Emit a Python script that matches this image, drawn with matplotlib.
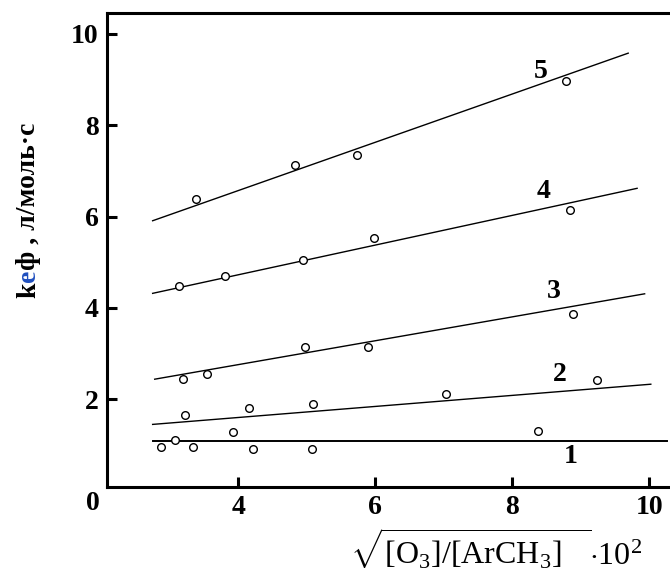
import matplotlib
matplotlib.use("Agg")
import matplotlib.pyplot as plt

plt.rcParams['font.family'] = ['Liberation Serif', 'DejaVu Serif']
plt.rcParams['mathtext.fontset'] = 'custom'
plt.rcParams['mathtext.rm'] = 'Liberation Serif'
plt.rcParams['mathtext.it'] = 'Liberation Serif:italic'
plt.rcParams['mathtext.bf'] = 'Liberation Serif:bold'

# measured points, curves 1..5
x1 = [2.87, 3.07, 3.34, 3.92, 4.22, 5.07, 8.37]
y1 = [0.96, 1.11, 0.96, 1.28, 0.91, 0.91, 1.31]
x2 = [3.22, 4.16, 5.09, 7.03, 9.24]
y2 = [1.66, 1.80, 1.89, 2.11, 2.42]
x3 = [3.20, 3.55, 4.98, 5.89, 8.89]
y3 = [2.44, 2.55, 3.15, 3.15, 3.86]
x4 = [3.14, 3.81, 4.94, 5.98, 8.84]
y4 = [4.48, 4.70, 5.05, 5.53, 6.15]
x5 = [3.38, 4.83, 5.73, 8.78]
y5 = [6.39, 7.12, 7.34, 8.97]

# fitted lines (end points)
fit1_x, fit1_y = [2.75, 10.25], [1.09, 1.09]
fit2_x, fit2_y = [2.75, 10.02], [1.45, 2.33]
fit3_x, fit3_y = [2.78, 9.93], [2.44, 4.31]
fit4_x, fit4_y = [2.75, 9.82], [4.32, 6.62]
fit5_x, fit5_y = [2.75, 9.69], [5.91, 9.58]

curve_names = ["1", "2", "3", "4", "5"]
name_x = [8.85, 8.69, 8.60, 8.46, 8.41]
name_y = [0.74, 2.55, 4.36, 6.55, 9.17]

x_ticks = [4, 6, 8, 10]
y_ticks = [2, 4, 6, 8, 10]

fig = plt.figure(figsize=(6.7, 5.82), dpi=100)
ax = fig.add_axes([0.1593, 0.1637, 0.8407, 0.814])

points = [(x1, y1), (x2, y2), (x3, y3), (x4, y4), (x5, y5)]
fits = [(fit1_x, fit1_y), (fit2_x, fit2_y), (fit3_x, fit3_y),
        (fit4_x, fit4_y), (fit5_x, fit5_y)]

for i, ((fx, fy), (px, py)) in enumerate(zip(fits, points)):
    ax.plot(fx, fy, color='black', lw=1.4 if i == 0 else 1.0, zorder=2)
    ax.plot(px, py, 'o', mfc='white', mec='black', ms=5.5, mew=1.0, zorder=3)

for name, nx, ny in zip(curve_names, name_x, name_y):
    ax.text(nx, ny, name, fontsize=20, fontweight='bold', ha='center', va='center')

ax.set_xlim(2.08, 10.30)
ax.set_ylim(0.085, 10.46)
ax.set_xticks(x_ticks)
ax.set_yticks(y_ticks)
ax.tick_params(direction='in', length=7, width=2.2, labelsize=20, pad=6)
for lab in ax.get_xticklabels() + ax.get_yticklabels():
    lab.set_fontweight('bold')

ax.spines['right'].set_visible(False)
for side in ['left', 'top', 'bottom']:
    ax.spines[side].set_linewidth(2.2)

# corner zero
fig.text(93 / 670, 1 - 503 / 582, "0", fontsize=20, fontweight='bold',
         ha='center', va='center')

# x label
fig.text(496 / 670, 1 - 549 / 582,
         r'$\sqrt{[\mathrm{O_3}]/[\mathrm{ArCH_3}]\quad}{\cdot}10^2$',
         fontsize=23, ha='center', va='center')

# y label, written piece by piece (the "е" is blue in the original)
renderer = fig.canvas.get_renderer()
ylab_parts = [("k", "black"), ("е", "#1f4fbf"), ("ф , л/моль·с", "black")]
cursor = 1 - 298 / 582
for txt, col in ylab_parts:
    t = fig.text(35 / 670, cursor, txt, fontsize=20, fontweight='bold',
                 color=col, rotation=90, rotation_mode='anchor',
                 ha='left', va='baseline')
    bb = t.get_window_extent(renderer)
    cursor += bb.height / fig.bbox.height

fig.savefig("out.png", dpi=100)
